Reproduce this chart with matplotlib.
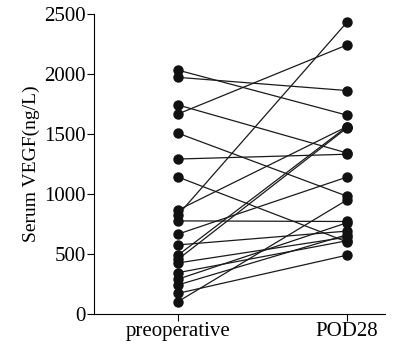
import matplotlib
matplotlib.use("Agg")
import matplotlib.pyplot as plt

# paired values, one entry per patient
groups = ["preoperative", "POD28"]
preop = [2030, 1970, 1740, 1665, 1505, 1290, 1140, 865, 825, 775,
         665, 575, 490, 455, 425, 344, 290, 242, 172, 103]
pod28 = [1655, 1860, 1340, 2240, 980, 1330, 600, 1560, 2430, 770,
         1140, 690, 1560, 1550, 640, 610, 760, 660, 490, 950]
yticks = [0, 500, 1000, 1500, 2000, 2500]

plt.rcParams['font.family'] = ['Liberation Serif', 'DejaVu Serif']

fig = plt.figure(figsize=(3.95, 3.46), dpi=100)
ax = fig.add_axes([0.238, 0.0925, 0.737, 0.868])

for a, b in zip(preop, pod28):
    ax.plot([0, 1], [a, b], color='#1a1a1a', lw=0.9, marker='o',
            markersize=6.5, markerfacecolor='#111111', markeredgecolor='#111111')

ax.set_xlim(-0.497, 1.225)
ax.set_ylim(0, 2500)
ax.set_xticks([0, 1])
ax.set_xticklabels(groups, fontsize=15)
ax.set_yticks(yticks)
ax.set_yticklabels([str(t) for t in yticks], fontsize=15)
ax.set_ylabel("Serum VEGF(ng/L)", fontsize=14, labelpad=3)

ax.spines['top'].set_visible(False)
ax.spines['right'].set_visible(False)
ax.spines['left'].set_linewidth(0.8)
ax.spines['bottom'].set_linewidth(0.8)
ax.tick_params(direction='out', length=5, width=0.8, pad=1)

fig.savefig("out.png", dpi=100)
